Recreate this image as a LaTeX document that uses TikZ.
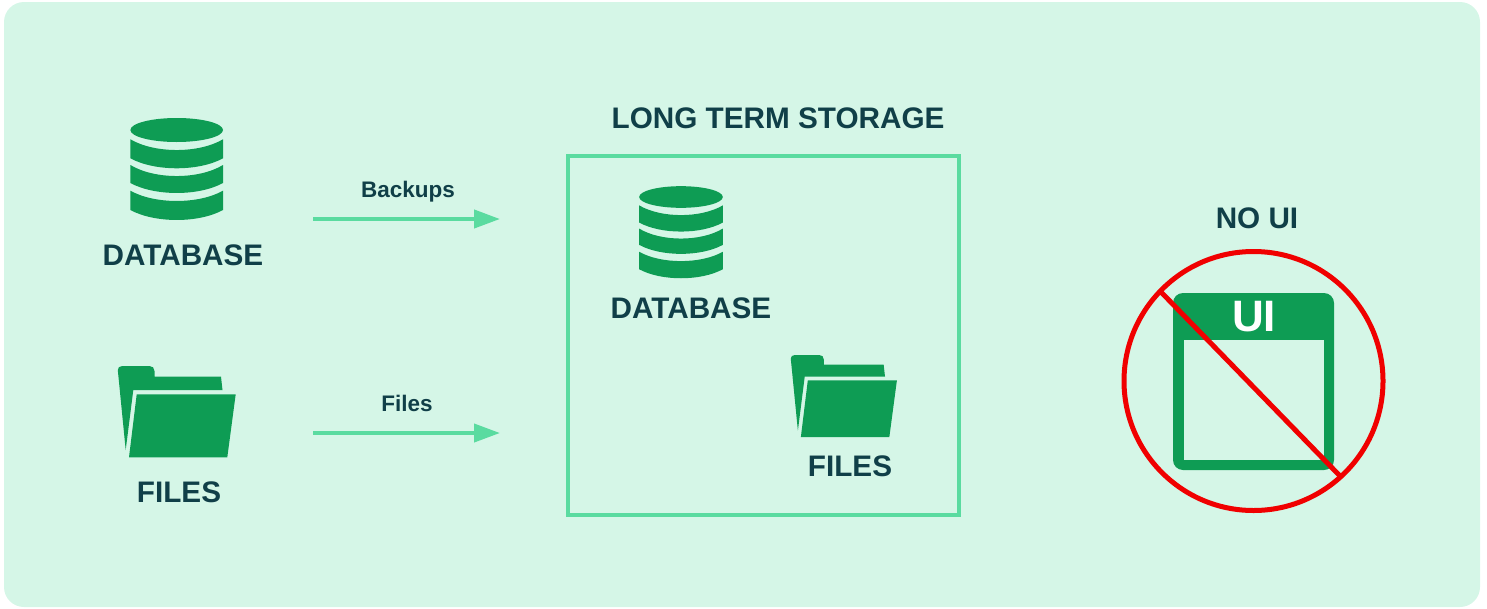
\documentclass[tikz,border=0pt]{standalone}
\usepackage{fontspec}
\setmainfont{Liberation Sans}
\usepackage{tikz}
\usetikzlibrary{arrows.meta}
\definecolor{panelGreen}{HTML}{D5F6E7}
\definecolor{lineGreen}{HTML}{5ADBA0}
\definecolor{iconGreen}{HTML}{0E9C54}
\definecolor{darkText}{HTML}{103F48}
\definecolor{noRed}{HTML}{F00000}
\tikzset{%
  tipA/.tip={Triangle[length=26pt,width=18pt]},
  bigLabel/.style={anchor=base,inner sep=0pt,text=darkText,font=\fontsize{29.7}{32}\selectfont\bfseries},
  smallLabel/.style={anchor=base,inner sep=0pt,text=darkText,font=\fontsize{22.5}{24}\selectfont\bfseries},
  flowArrow/.style={draw=lineGreen,line width=4pt,-tipA},
  dbicon/.pic={
    \fill[iconGreen] (0,0) ellipse [x radius=46.3,y radius=12];
    \fill[iconGreen] (-46.3,9.3) .. controls (-22,23.6) and (22,23.6) .. (46.3,9.3) -- (46.3,28.3) .. controls (22,41.6) and (-22,41.6) .. (-46.3,28.3) -- cycle;
    \fill[iconGreen] (-46.3,35) .. controls (-22,49.7) and (22,49.7) .. (46.3,35) -- (46.3,53) .. controls (22,66.3) and (-22,66.3) .. (-46.3,53) -- cycle;
    \fill[iconGreen] (-46.3,60.7) .. controls (-22,74.4) and (22,74.4) .. (46.3,60.7) -- (46.3,80) .. controls (22,93.3) and (-22,93.3) .. (-46.3,80) -- cycle;
  },
  foldericon/.pic={
    \fill[iconGreen] (0.3,4) .. controls (0.3,1.5) and (2,0) .. (5,0) -- (32,0) .. controls (35,0) and (37,2) .. (37,5) -- (37,10.7) -- (103.5,10.7) -- (105,24) -- (15.8,24) -- (8.2,84) -- cycle;
    \fill[iconGreen] (19.2,28.3) -- (118.2,28.3) -- (109.8,91.3) -- (11.5,91.3) -- cycle;
  }
}
\begin{document}
\begin{tikzpicture}[x=1pt,y=-1pt]
\useasboundingbox (0,0) rectangle (1487,608);
\fill[panelGreen,rounded corners=20pt] (4,2) rectangle (1480,607);
% left side
\pic at (176.7,130) {dbicon};
\node[bigLabel] (dbleft) at (183,265.7) {DATABASE};
\pic at (117.5,366) {foldericon};
\node[bigLabel] (filesleft) at (179,502.7) {FILES};
% arrows
\coordinate (backupsA) at (313,219);
\coordinate (backupsB) at (500,219);
\coordinate (filesA) at (313,433);
\coordinate (filesB) at (500,433);
\draw[flowArrow] (backupsA) -- (backupsB);
\draw[flowArrow] (filesA) -- (filesB);
\node[smallLabel] (backupslabel) at (408,197.3) {Backups};
\node[smallLabel] (fileslabel) at (407,411.5) {Files};
% storage
\node[bigLabel] (storagelabel) at (778,128.5) {LONG TERM STORAGE};
\draw[lineGreen,line width=4.5pt] (568,156) rectangle (959,515);
\pic[scale=.903] at (681,197) {dbicon};
\node[bigLabel] (dbright) at (691,318.7) {DATABASE};
\pic[scale=.9] at (790.5,355) {foldericon};
\node[bigLabel] (filesright) at (850,476) {FILES};
% no ui
\node[bigLabel] (nouilabel) at (1257,228.5) {NO UI};
\fill[iconGreen,rounded corners=10pt] (1173,293) rectangle (1334,470);
\fill[panelGreen] (1184,340) rectangle (1323.5,459.5);
\node[anchor=base,inner sep=0pt,text=white,font=\fontsize{44}{48}\selectfont\bfseries] (uilabel) at (1254,331) {UI};
\node[draw=noRed,line width=5pt,circle,minimum size=259pt,inner sep=0pt] (nocircle) at (1253.5,381) {};
\coordinate (slashA) at (1160,291);
\coordinate (slashB) at (1340,476);
\draw[noRed,line width=5pt] (slashA) -- (slashB);
\end{tikzpicture}
\end{document}
